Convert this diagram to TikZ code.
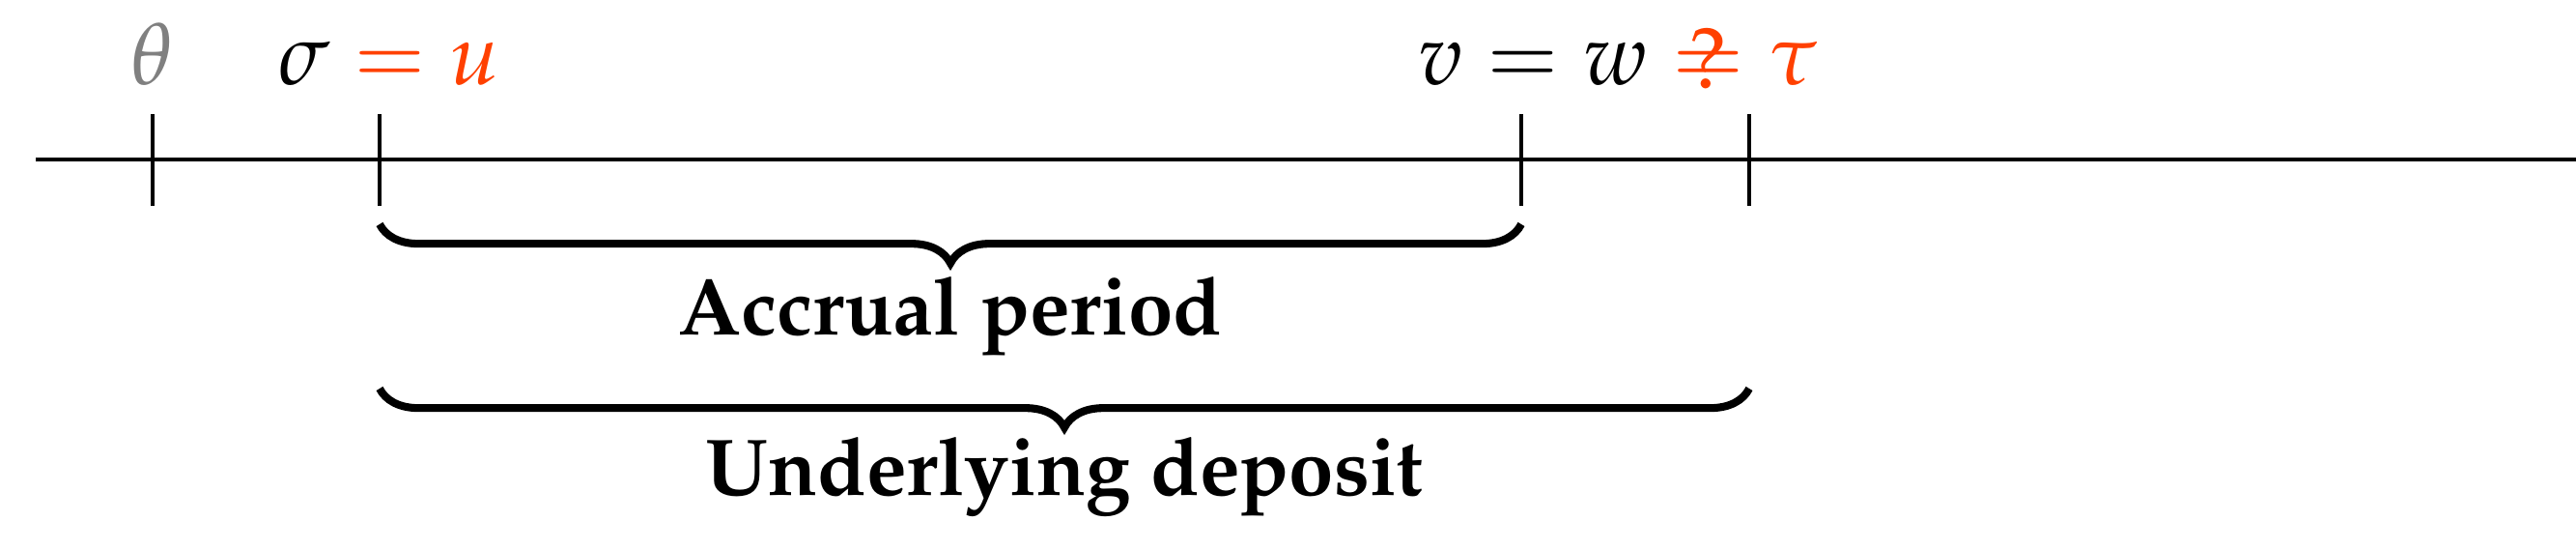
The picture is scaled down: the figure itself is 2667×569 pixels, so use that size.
\documentclass[tikz,border=0pt]{standalone}
\usepackage[T1]{fontenc}
\usepackage{mathpazo}
\usetikzlibrary{decorations.pathreplacing}
\definecolor{myor}{RGB}{255,64,0}
\newcommand{\qeq}{\mathrel{\ooalign{$=$\cr\hfil\raisebox{-0.04em}{?}\hfil\cr}}}
\begin{document}
\fontsize{20}{24}\selectfont
\begin{tikzpicture}[x=0.00784cm,y=-0.00784cm,
  tick/.style={line width=0.7pt},
  brc/.style={decorate,decoration={brace,mirror,amplitude=9pt,raise=0pt},line width=1.8pt},
  lab/.style={anchor=base,inner sep=0pt},
  big/.style={anchor=base,inner sep=0pt,font=\fontsize{18.6}{22}\selectfont\bfseries}]
\useasboundingbox (0,0) rectangle (2667,569);
\coordinate (L) at (37,165); \coordinate (R) at (2667,165);
\draw[tick] (L) -- (R);
\foreach \n/\x in {t0/158,t1/393,t2/1575,t3/1811}{
  \coordinate (\n a) at (\x,118); \coordinate (\n b) at (\x,213);
  \draw[tick] (\n a) -- (\n b);}
\node[lab,text=gray] (th) at (158,88) {\fontsize{20}{24}\selectfont$\theta$};
\node[lab,anchor=base west] (su) at (287,88) {\fontsize{20}{24}\selectfont$\sigma\mathrel{\color{myor}=}{\color{myor}u}$};
\node[lab,anchor=base west] (vw) at (1467,88) {\fontsize{20}{24}\selectfont$v=w\;{\color{myor}\qeq}\;{\color{myor}\tau}$};
\coordinate (b1l) at (393,232); \coordinate (b1r) at (1575,232);
\coordinate (b2l) at (393,402); \coordinate (b2r) at (1811,402);
\draw[brc] (b1l) -- (b1r);
\draw[brc] (b2l) -- (b2r);
\node[big] (ap) at (984,347) {Accrual period};
\node[big] (ud) at (1102,513) {Underlying deposit};
\end{tikzpicture}
\end{document}
